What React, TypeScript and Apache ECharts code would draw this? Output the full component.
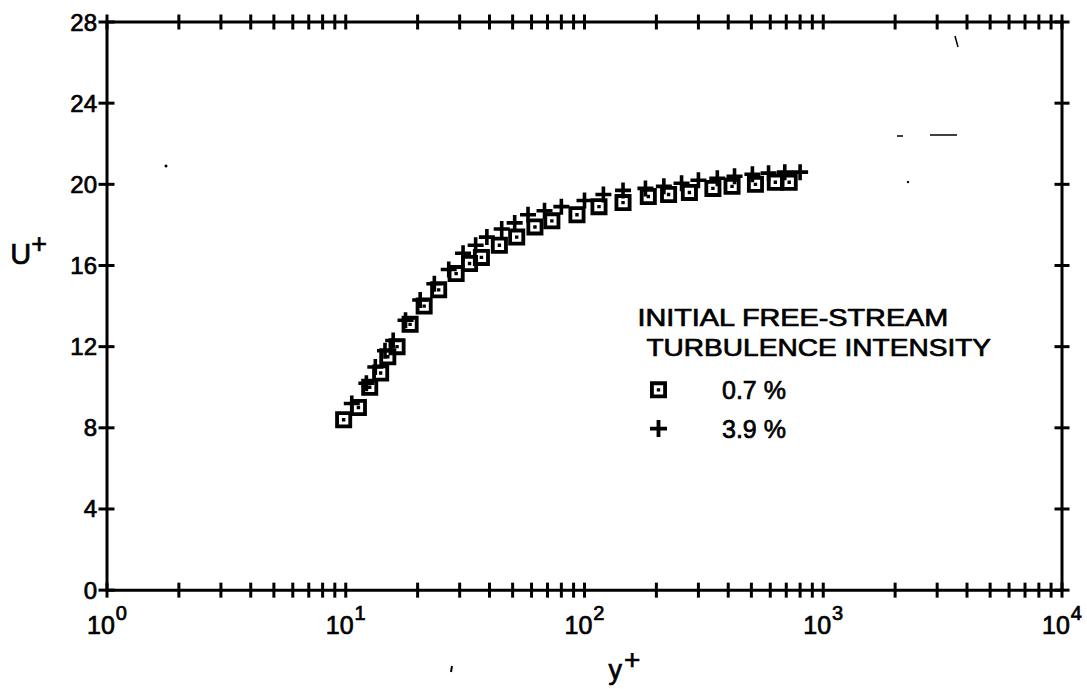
import React, { useEffect, useRef } from "react";
import * as echarts from "echarts";

// ---- data ----
const SQ_YPLUS = [9.8, 11.3, 12.6, 14.0, 15.0, 16.4, 18.6, 21.3, 24.5, 29, 33, 37, 44, 52, 62, 73, 93, 115, 145, 185, 225, 275, 345, 415, 520, 630, 720];
const SQ_UPLUS = [8.4, 9.0, 10.0, 10.7, 11.5, 12.0, 13.1, 14.0, 14.8, 15.6, 16.1, 16.4, 17.0, 17.4, 17.9, 18.2, 18.5, 18.9, 19.1, 19.4, 19.5, 19.6, 19.8, 19.9, 20.0, 20.1, 20.1];
const PL_YPLUS = [10.6, 12.2, 13.3, 14.6, 15.8, 17.8, 20.5, 23.5, 27, 31, 35, 39, 45, 51, 58, 68, 80, 100, 120, 145, 180, 215, 255, 300, 360, 425, 505, 590, 690, 800];
const PL_UPLUS = [9.2, 10.2, 11.0, 11.8, 12.3, 13.3, 14.3, 15.1, 15.8, 16.6, 17.0, 17.4, 17.8, 18.1, 18.5, 18.7, 18.9, 19.2, 19.5, 19.7, 19.8, 19.9, 20.05, 20.2, 20.3, 20.4, 20.5, 20.55, 20.6, 20.6];

const SERIES_NAMES = ["0.7 %", "3.9 %"];
const LEGEND_TITLE = ["INITIAL FREE-STREAM", "TURBULENCE INTENSITY"];

const X_MIN = 1;
const X_MAX = 10000;
const Y_MIN = 0;
const Y_MAX = 28;
const Y_STEP = 4;
const Y_TICKS = [0, 4, 8, 12, 16, 20, 24, 28];
const X_DECADES = [1, 10, 100, 1000];
const MINOR_MULTS = [1, 2, 3, 4, 5, 6, 7, 8, 9];

const X_TICKS: number[] = [];
X_DECADES.forEach((d) => MINOR_MULTS.forEach((m) => X_TICKS.push(d * m)));
X_TICKS.push(X_MAX);

const SQUARE_PATH = "path://M0,0H16V16H0Z M3.6,3.6V12.4H12.4V3.6Z M6.4,6.4H9.6V9.6H6.4Z";
const PLUS_PATH = "path://M6.2,0H9.8V6.2H16V9.8H9.8V16H6.2V9.8H0V6.2H6.2Z";

const FONT = "'Liberation Sans', Arial, sans-serif";
const TICK = 7.5;
const LW = 3;
const INK = { color: "#000", textBorderColor: "#000", textBorderWidth: 0.7 };
const INKF = { fill: "#000", stroke: "#000", lineWidth: 0.7 };

export default function App() {
  const ref = useRef<HTMLDivElement>(null);
  useEffect(() => {
    if (!ref.current) return;
    const chart = echarts.init(ref.current, null, { renderer: "svg" });

    const tickLine = (x1: number, y1: number, x2: number, y2: number) => ({
      type: "line",
      shape: { x1, y1, x2, y2 },
      style: { stroke: "#000", lineWidth: LW },
    });

    const option: any = {
      animation: false,
      backgroundColor: "#fff",
      grid: { left: 107, right: 25, top: 22, bottom: 92, show: true, borderColor: "#000", borderWidth: LW, backgroundColor: "transparent" },
      xAxis: {
        type: "log",
        logBase: 10,
        min: X_MIN,
        max: X_MAX,
        axisLine: { show: false },
        axisTick: { show: false },
        splitLine: { show: false },
        axisLabel: {
          margin: 13,
          color: "#000",
          fontFamily: FONT,
          formatter: (v: number) => `{b|10}{s|${Math.round(Math.log10(v))}}`,
          rich: {
            b: { fontSize: 25, fontFamily: FONT, ...INK },
            s: { fontSize: 20, fontFamily: FONT, ...INK, padding: [0, 0, 24, 1] },
          },
        },
        name: "{b|y}{s|+}",
        nameLocation: "middle",
        nameGap: 55,
        nameTextStyle: {
          padding: [0, 0, 0, 80],
          rich: {
            b: { fontSize: 27, fontFamily: FONT, ...INK },
            s: { fontSize: 28, fontFamily: FONT, ...INK, padding: [0, 0, 22, 2] },
          },
        },
      },
      yAxis: {
        type: "value",
        min: Y_MIN,
        max: Y_MAX,
        interval: Y_STEP,
        axisLine: { show: false },
        axisTick: { show: false },
        splitLine: { show: false },
        axisLabel: { margin: 10, fontSize: 24, fontFamily: FONT, ...INK },
      },
      legend: {
        orient: "vertical",
        left: 645,
        top: 372,
        itemWidth: 17,
        itemHeight: 17,
        itemGap: 13,
        data: SERIES_NAMES,
        itemStyle: { opacity: 1 },
        textStyle: { fontSize: 25, fontFamily: FONT, ...INK, padding: [0, 0, 0, 50] },
        selectedMode: false,
      },
      graphic: [
        {
          type: "text",
          left: 637,
          top: 305,
          scaleX: 1.2,
          style: { text: LEGEND_TITLE[0], fontSize: 24, fontFamily: FONT, ...INKF },
        },
        {
          type: "text",
          left: 646,
          top: 335,
          scaleX: 1.17,
          style: { text: LEGEND_TITLE[1], fontSize: 24, fontFamily: FONT, ...INKF },
        },
        {
          type: "text",
          left: 10,
          top: 230,
          style: {
            text: "{b|U}{s|+}",
            rich: {
              b: { fontSize: 29, fontFamily: FONT, ...INKF },
              s: { fontSize: 27, fontFamily: FONT, ...INKF, padding: [0, 0, 20, 0] },
            },
          },
        },
        // scanning specks
        { type: "circle", shape: { cx: 166, cy: 166, r: 1.5 }, style: { fill: "#000" } },
        { type: "line", shape: { x1: 897, y1: 136, x2: 903, y2: 136 }, style: { stroke: "#000", lineWidth: 1.5 } },
        { type: "line", shape: { x1: 930, y1: 135, x2: 957, y2: 135 }, style: { stroke: "#000", lineWidth: 1.5 } },
        { type: "line", shape: { x1: 955, y1: 36, x2: 958, y2: 47 }, style: { stroke: "#000", lineWidth: 1.5 } },
        { type: "circle", shape: { cx: 908, cy: 182, r: 1.2 }, style: { fill: "#000" } },
        { type: "line", shape: { x1: 452, y1: 666, x2: 451, y2: 672 }, style: { stroke: "#000", lineWidth: 2 } },
      ],
      series: [
        {
          name: SERIES_NAMES[0],
          type: "scatter",
          symbol: SQUARE_PATH,
          symbolSize: 17,
          itemStyle: { color: "#000", opacity: 1 },
          data: SQ_YPLUS.map((x, i) => [x, SQ_UPLUS[i]]),
          z: 3,
        },
        {
          name: SERIES_NAMES[1],
          type: "scatter",
          symbol: PLUS_PATH,
          symbolSize: 16,
          itemStyle: { color: "#000", opacity: 1 },
          data: PL_YPLUS.map((x, i) => [x, PL_UPLUS[i]]),
          z: 4,
        },
        {
          name: "xticks",
          type: "custom",
          clip: false,
          silent: true,
          z: 5,
          data: X_TICKS.map((v) => [v, Y_MIN]),
          renderItem: (_p: any, api: any) => {
            const v = api.value(0);
            const b = api.coord([v, Y_MIN]);
            const t = api.coord([v, Y_MAX]);
            return {
              type: "group",
              children: [
                tickLine(b[0], b[1] - TICK, b[0], b[1] + TICK),
                tickLine(t[0], t[1] - TICK, t[0], t[1] + TICK),
              ],
            };
          },
        },
        {
          name: "yticks",
          type: "custom",
          clip: false,
          silent: true,
          z: 5,
          data: Y_TICKS.map((u) => [X_MIN, u]),
          renderItem: (_p: any, api: any) => {
            const u = api.value(1);
            const l = api.coord([X_MIN, u]);
            const r = api.coord([X_MAX, u]);
            return {
              type: "group",
              children: [
                tickLine(l[0] - TICK - 1, l[1], l[0] + TICK, l[1]),
                tickLine(r[0] - TICK, r[1], r[0] + TICK, r[1]),
              ],
            };
          },
        },
      ],
    };
    chart.setOption(option);
    return () => chart.dispose();
  }, []);
  return (
    <div
      ref={ref}
      style={{ position: "fixed", left: 0, top: 0, width: 1087, height: 689, background: "#fff" }}
    />
  );
}
